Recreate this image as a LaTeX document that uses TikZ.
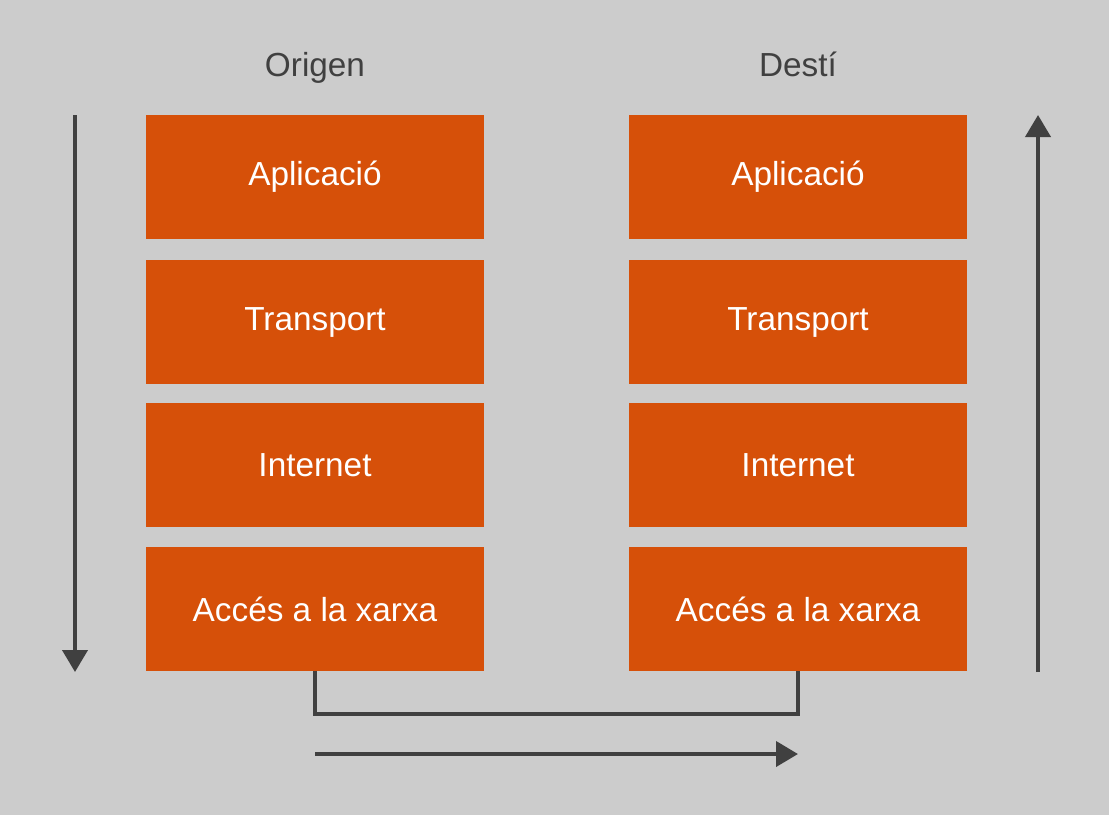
\documentclass[tikz,border=0pt]{standalone}
\usepackage{fontspec}
\setmainfont{Liberation Sans}
\usetikzlibrary{arrows.meta}
\definecolor{fons}{HTML}{CCCCCC}
\definecolor{taronja}{HTML}{D65009}
\definecolor{fosc}{HTML}{404040}
\tikzset{
  capa/.style={fill=taronja, text=white, minimum width=253.5pt, minimum height=93pt,
    inner sep=0pt, outer sep=0pt, font=\fontsize{25}{28}\selectfont},
  titol/.style={text=fosc, anchor=base, font=\fontsize{25}{28}\selectfont},
  fletxa/.style={draw=fosc, line width=3pt, -{Triangle[length=16.5pt, width=18.75pt]}},
  linia/.style={draw=fosc, line width=3pt}
}
\begin{document}
\begin{tikzpicture}[x=0.75pt, y=-0.75pt]
        % Fons
        \fill[fons] (0,0) rectangle (1109,815);
        \useasboundingbox (0,0) rectangle (1109,815);

        % Titols
        \node[titol] (origen) at (315,76) {Origen};
        \node[titol] (desti) at (798,76) {Destí};

        % Capes origen
        \node[capa] (oapl) at (315,177) {Aplicació};
        \node[capa] (otra) at (315,322) {Transport};
        \node[capa] (oint) at (315,465) {Internet};
        \node[capa] (oacc) at (315,609) {Accés a la xarxa};

        % Capes desti
        \node[capa] (dapl) at (798,177) {Aplicació};
        \node[capa] (dtra) at (798,322) {Transport};
        \node[capa] (dint) at (798,465) {Internet};
        \node[capa] (dacc) at (798,609) {Accés a la xarxa};

        % Fletxes laterals
        \coordinate (baixa1) at (75,115);
        \coordinate (baixa2) at (75,672);
        \coordinate (puja1) at (1038,672);
        \coordinate (puja2) at (1038,115);
        \draw[fletxa] (baixa1) -- (baixa2);
        \draw[fletxa] (puja1) -- (puja2);

        % Enllac fisic
        \draw[linia] (oacc.south) -- ++(0,43) -| (dacc.south);

        % Fletxa inferior
        \coordinate (flux1) at (315,754);
        \coordinate (flux2) at (798,754);
        \draw[fletxa] (flux1) -- (flux2);
\end{tikzpicture}
\end{document}
